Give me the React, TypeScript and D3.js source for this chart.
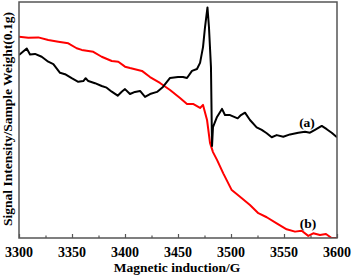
import * as d3 from "d3";
import { useEffect, useRef } from "react";

// sample (a): field in G, intensity in arbitrary units
const fieldA = [
  3300, 3307.3, 3310.4, 3315.1, 3321.4, 3327.6, 3332.4, 3338.7, 3343.4, 3349.7,
  3355.9, 3360.7, 3362.9, 3365.4, 3371.7, 3378.0, 3382.7, 3387.5, 3393.1, 3396.9,
  3400, 3404.7, 3409.4, 3414.2, 3418.9, 3423.6, 3430.2, 3435.8, 3442.5, 3450,
  3454.7, 3458.5, 3463.2, 3467.9, 3470.8, 3473.6, 3475.5, 3477.8, 3479.2, 3481.1,
  3482.1, 3483.0, 3486.8, 3491.5, 3494.3, 3499.1, 3506.3, 3509.4, 3513.2, 3517.9,
  3524.2, 3529.0, 3533.7, 3538.4, 3543.1, 3549.3, 3555.7, 3563.5, 3569.8, 3574.5,
  3579.2, 3585.6, 3590.3, 3595.0, 3600,
];
const intensityA = [
  77.5, 80.3, 77.8, 78.0, 76.8, 74.7, 73.7, 70.0, 69.4, 67.7,
  66.2, 66.5, 67.7, 66.5, 65.6, 64.4, 63.7, 62.0, 60.3, 62.0,
  63.1, 61.0, 61.9, 62.3, 59.8, 61.0, 61.9, 64.0, 67.8, 68.2,
  68.2, 67.8, 70.8, 71.6, 74.2, 80.9, 89.4, 97.7, 89.4, 72.5,
  39.0, 47.0, 51.3, 54.7, 52.1, 52.1, 50.7, 52.1, 53.1, 50.0,
  46.9, 45.8, 44.4, 42.7, 43.6, 42.9, 43.9, 44.6, 45.0, 44.6,
  45.8, 47.5, 46.1, 44.6, 42.7,
];

// sample (b)
const fieldB = [
  3300, 3308.8, 3318.2, 3327.6, 3337.1, 3346.5, 3354.4, 3359.2, 3370.1, 3378.0,
  3387.5, 3393.7, 3400, 3404.7, 3416.0, 3423.6, 3433.0, 3442.5, 3451.9, 3458.5,
  3464.2, 3470.8, 3473.6, 3477.4, 3480.2, 3483.0, 3486.8, 3492.7, 3500.7, 3508.5,
  3517.9, 3525.8, 3533.7, 3543.1, 3552.5, 3560.4, 3566.7, 3572.9, 3577.6, 3583.9,
  3589.6, 3594.9, 3600,
];
const intensityB = [
  85.3, 84.9, 85.0, 83.9, 83.2, 82.5, 80.4, 79.7, 78.9, 76.8,
  75.0, 74.7, 72.6, 72.0, 70.8, 68.2, 65.7, 62.7, 59.3, 56.8,
  56.8, 55.1, 56.4, 50.0, 40.3, 36.4, 33.1, 27.4, 20.3, 17.5,
  14.0, 10.5, 8.8, 6.2, 3.7, 2.7, 3.1, 0.9, 2.0, 1.3,
  1.7, 0, 0,
];

const xTicks = [3300, 3350, 3400, 3450, 3500, 3550, 3600];
const minorTicks = [3325, 3375, 3425, 3475, 3525, 3575];

export default function App() {
  const svgRef = useRef<SVGSVGElement>(null);

  useEffect(() => {
    const w = 352;
    const h = 278;
    const left = 19;
    const right = 337;
    const top = 2;
    const bottom = 238;
    const font = "'Liberation Serif', 'Times New Roman', serif";

    const svg = d3.select(svgRef.current).attr("width", w).attr("height", h);
    svg.selectAll("*").remove();

    const x = d3.scaleLinear().domain([3300, 3600]).range([left, right]);
    const y = d3.scaleLinear().domain([0, 100]).range([bottom, top]);

    const line = d3
      .line<[number, number]>()
      .x((d) => x(d[0]))
      .y((d) => y(d[1]));

    svg
      .append("defs")
      .append("clipPath")
      .attr("id", "plot")
      .append("rect")
      .attr("x", left)
      .attr("y", top)
      .attr("width", right - left)
      .attr("height", bottom - top);

    const a = fieldA.map((f, i) => [f, intensityA[i]] as [number, number]);
    const b = fieldB.map((f, i) => [f, intensityB[i]] as [number, number]);

    const g = svg.append("g").attr("clip-path", "url(#plot)");
    g.append("path")
      .attr("d", line(b))
      .attr("fill", "none")
      .attr("stroke", "#ff0000")
      .attr("stroke-width", 2)
      .attr("stroke-linejoin", "round");
    g.append("path")
      .attr("d", line(a))
      .attr("fill", "none")
      .attr("stroke", "#000")
      .attr("stroke-width", 2)
      .attr("stroke-linejoin", "round");

    // frame
    svg
      .append("rect")
      .attr("x", left)
      .attr("y", top)
      .attr("width", right - left)
      .attr("height", bottom - top)
      .attr("fill", "none")
      .attr("stroke", "#555")
      .attr("stroke-width", 1.5);

    // ticks pointing inward
    const xAxis = d3
      .axisTop(x)
      .tickValues(xTicks)
      .tickSize(4)
      .tickFormat(() => "");
    svg
      .append("g")
      .attr("transform", `translate(0,${bottom})`)
      .call(xAxis)
      .call((s) => s.select(".domain").remove())
      .call((s) => s.selectAll("line").attr("stroke", "#555").attr("stroke-width", 1.2));

    const minorAxis = d3
      .axisTop(x)
      .tickValues(minorTicks)
      .tickSize(2.5)
      .tickFormat(() => "");
    svg
      .append("g")
      .attr("transform", `translate(0,${bottom})`)
      .call(minorAxis)
      .call((s) => s.select(".domain").remove())
      .call((s) => s.selectAll("line").attr("stroke", "#555").attr("stroke-width", 1.2));

    svg
      .append("g")
      .selectAll("text")
      .data(xTicks)
      .join("text")
      .attr("x", (d) => x(d))
      .attr("y", 256.5)
      .attr("text-anchor", "middle")
      .attr("font-family", font)
      .attr("font-weight", "bold")
      .attr("font-size", 14)
      .text((d) => d);

    svg
      .append("text")
      .attr("x", 177)
      .attr("y", 272)
      .attr("text-anchor", "middle")
      .attr("font-family", font)
      .attr("font-weight", "bold")
      .attr("font-size", 13.5)
      .text("Magnetic induction/G");

    svg
      .append("text")
      .attr("transform", "translate(11.5,119) rotate(-90)")
      .attr("text-anchor", "middle")
      .attr("font-family", font)
      .attr("font-weight", "bold")
      .attr("font-size", 13.5)
      .text("Signal Intensity/Sample Weight(0.1g)");

    svg
      .append("text")
      .attr("x", 307)
      .attr("y", 127)
      .attr("text-anchor", "middle")
      .attr("font-family", font)
      .attr("font-weight", "bold")
      .attr("font-size", 13.5)
      .text("(a)");

    svg
      .append("text")
      .attr("x", 308)
      .attr("y", 227.5)
      .attr("text-anchor", "middle")
      .attr("font-family", font)
      .attr("font-weight", "bold")
      .attr("font-size", 13.5)
      .text("(b)");
  }, []);

  return (
    <div>
      <svg ref={svgRef} style={{ position: "absolute", left: 0, top: 0 }}></svg>
    </div>
  );
}
